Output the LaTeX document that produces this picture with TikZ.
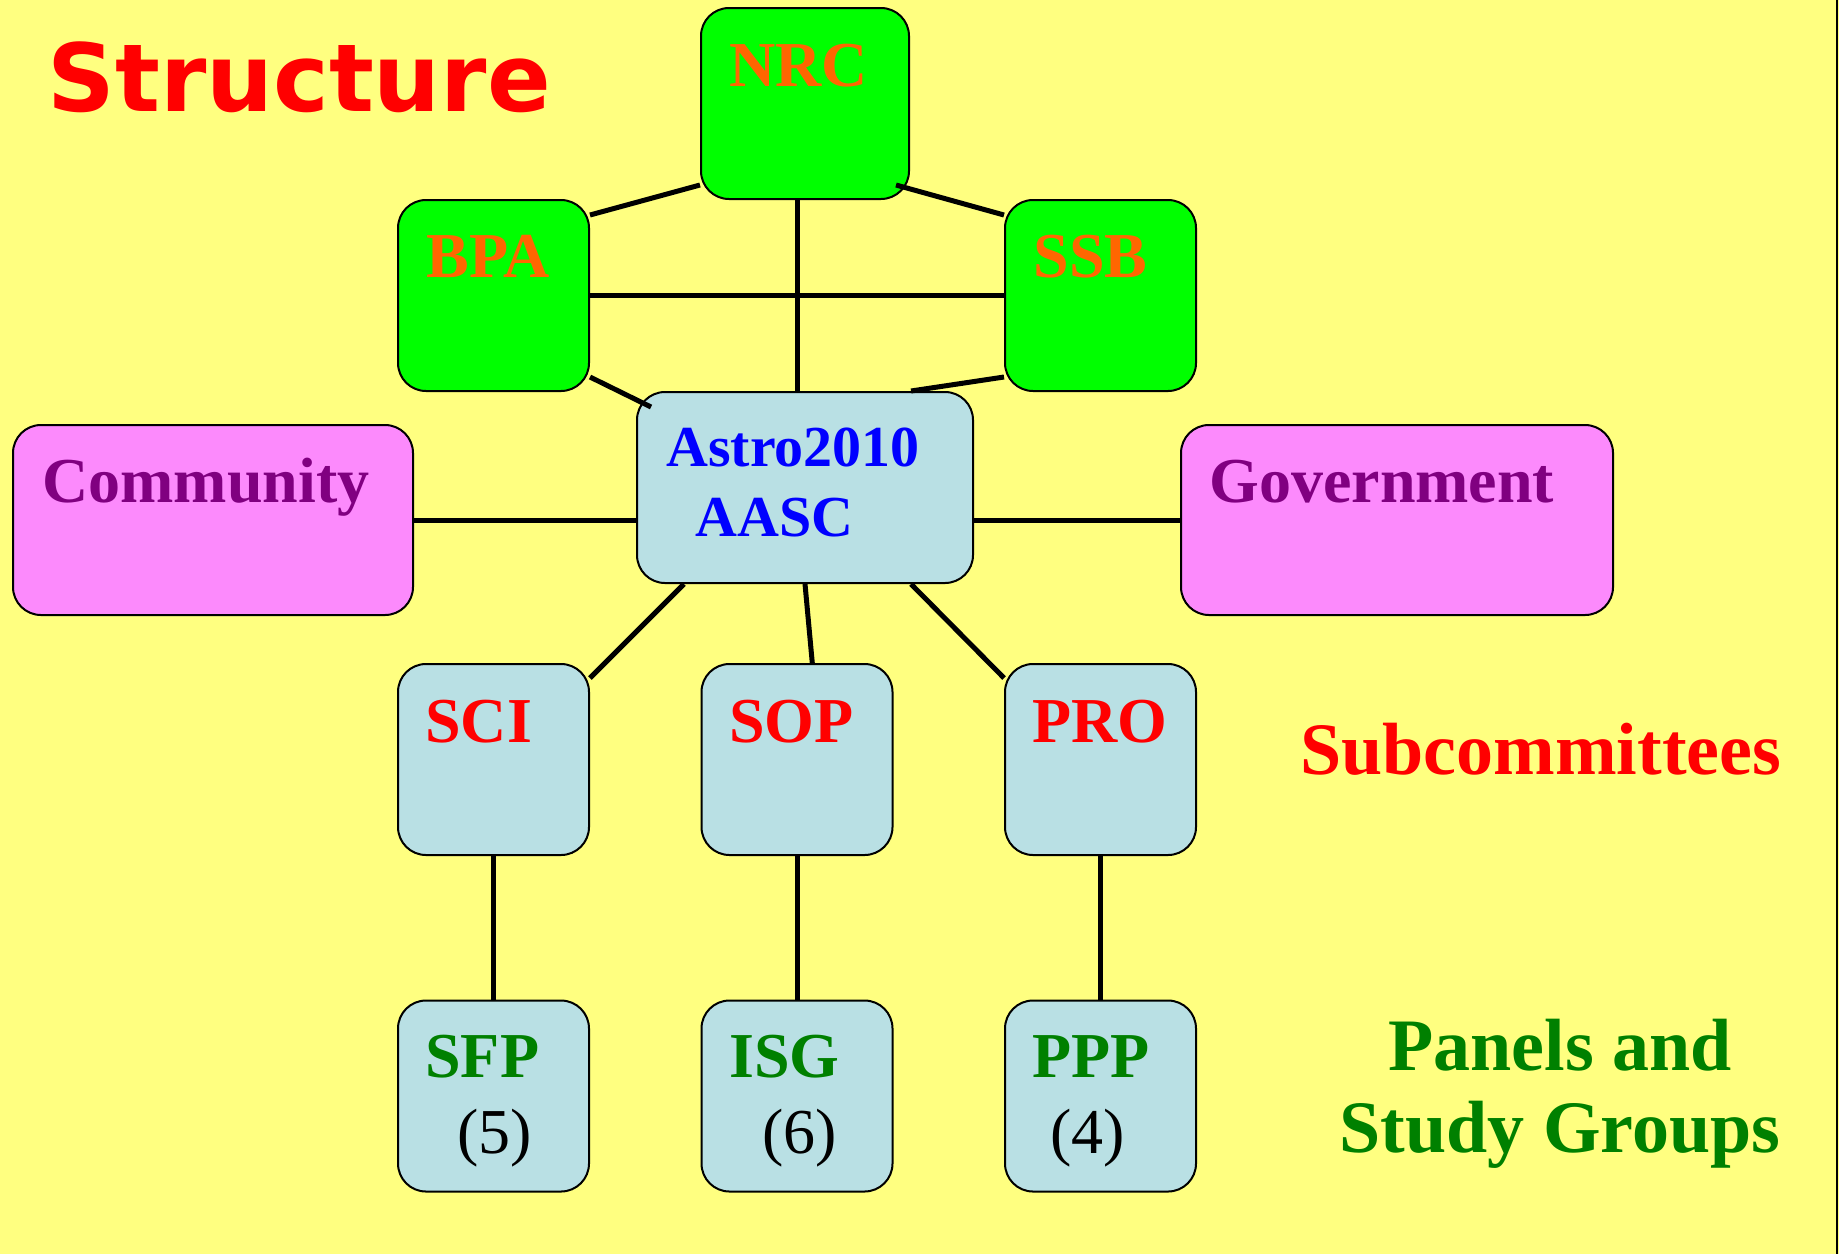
\documentclass[tikz,border=0pt]{standalone}
\usepackage{fontspec}
\setmainfont{Liberation Serif}
\newfontfamily\headfont{DejaVu Sans}
\usepackage{tikz}

\definecolor{bgyellow}{RGB}{255,255,128}
\definecolor{boxgreen}{RGB}{0,255,0}
\definecolor{boxblue}{RGB}{185,224,228}
\definecolor{boxpink}{RGB}{252,138,252}
\definecolor{txtorange}{RGB}{255,102,0}
\definecolor{txtpurple}{RGB}{128,0,128}
\definecolor{txtgreen}{RGB}{0,128,0}

\tikzset{
  unit/.style={draw=black, line width=1pt, rounded corners=14pt,
    minimum width=95.5pt, minimum height=95.5pt, inner sep=0pt},
  link/.style={line width=2.5pt},
  lbl/.style={anchor=base west, inner sep=0pt, font=\fontsize{32}{38}\selectfont\bfseries},
  big/.style={inner sep=0pt, font=\fontsize{37}{44}\selectfont\bfseries},
}

\begin{document}
\begin{tikzpicture}[x=0.5pt,y=-0.5pt]
    \fill[bgyellow] (0,0) rectangle (1839,1254);
    \useasboundingbox (0,0) rectangle (1839,1254);
    \draw[line width=1pt] (1837,0) -- (1837,1254);

    \node[unit,fill=boxgreen,minimum width=104pt] (nrc) at (805,103.5) {};
    \node[unit,fill=boxgreen] (bpa) at (493.5,295.5) {};
    \node[unit,fill=boxgreen] (ssb) at (1100.5,295.5) {};
    \node[unit,fill=boxblue,minimum width=168pt] (astro) at (805,487.5) {};
    \node[unit,fill=boxpink,minimum width=200pt,minimum height=95pt] (community) at (213,520) {};
    \node[unit,fill=boxpink,minimum width=216pt,minimum height=95pt] (gov) at (1397,520) {};
    \node[unit,fill=boxblue] (sci) at (493.5,759.5) {};
    \node[unit,fill=boxblue] (sop) at (797,759.5) {};
    \node[unit,fill=boxblue] (pro) at (1100.5,759.5) {};
    \node[unit,fill=boxblue] (sfp) at (493.5,1096) {};
    \node[unit,fill=boxblue] (isg) at (797,1096) {};
    \node[unit,fill=boxblue] (ppp) at (1100.5,1096) {};

    \draw[link] ([yshift=7.5pt]nrc.south west) -- ([yshift=-8pt]bpa.north east);
    \draw[link] ([shift={(-7pt,7.5pt)}]nrc.south east) -- ([yshift=-8pt]ssb.north west);
    \draw[link] ([xshift=-4pt]nrc.south) -- ([xshift=-4pt]astro.north);
    \draw[link] (bpa.east) -- (ssb.west);
    \draw[link] ([yshift=7.5pt]bpa.south east) -- ([shift={(7.5pt,-8pt)}]astro.north west);
    \draw[link] ([yshift=7.5pt]ssb.south west) -- ([xshift=-31.5pt]astro.north east);
    \draw[link] (community.east) -- (community.east -| astro.west);
    \draw[link] (gov.west) -- (gov.west -| astro.east);
    \draw[link] ([xshift=24pt]astro.south west) -- ([yshift=-7.5pt]sci.north east);
    \draw[link] (astro.south) -- (sop.81);
    \draw[link] ([xshift=-31.5pt]astro.south east) -- ([yshift=-7.5pt]pro.north west);
    \draw[link] (sci.south) -- (sfp.north);
    \draw[link] (sop.south) -- (isg.north);
    \draw[link] (pro.south) -- (ppp.north);

    \node[anchor=base west,inner sep=0pt,text=red,font=\headfont\fontsize{47}{56}\selectfont\bfseries] (title) at (47,111) {Structure};

    \node[lbl,text=txtorange] (nrclbl) at (729,86) {NRC};
    \node[lbl,text=txtorange] (bpalbl) at (426,277) {BPA};
    \node[lbl,text=txtorange] (ssblbl) at (1033,277) {SSB};
    \node[lbl,text=blue,font=\fontsize{29}{34}\selectfont\bfseries] (astrolbl) at (666,466) {Astro2010};
    \node[lbl,text=blue,font=\fontsize{29}{34}\selectfont\bfseries] (aasclbl) at (695,536) {AASC};
    \node[lbl,text=txtpurple] (commlbl) at (42,502) {Community};
    \node[lbl,text=txtpurple] (govlbl) at (1209,502) {Government};
    \node[lbl,text=red] (scilbl) at (425,742) {SCI};
    \node[lbl,text=red] (soplbl) at (729,742) {SOP};
    \node[lbl,text=red] (prolbl) at (1032,742) {PRO};
    \node[lbl,text=txtgreen] (sfplbl) at (425,1077) {SFP};
    \node[lbl,text=txtgreen] (isglbl) at (729,1077) {ISG};
    \node[lbl,text=txtgreen] (ppplbl) at (1032,1077) {PPP};
    \node[lbl,font=\fontsize{32}{38}\selectfont] (sfpnum) at (457,1153) {(5)};
    \node[lbl,font=\fontsize{32}{38}\selectfont] (isgnum) at (762,1153) {(6)};
    \node[lbl,font=\fontsize{32}{38}\selectfont] (pppnum) at (1050,1153) {(4)};

    \node[big,anchor=base west,text=red] (subtitle) at (1300,774) {Subcommittees};
    \node[big,anchor=base,text=txtgreen] (paneltitle) at (1560,1070) {Panels and};
    \node[big,anchor=base,text=txtgreen] (grouptitle) at (1560,1152) {Study Groups};
\end{tikzpicture}
\end{document}
